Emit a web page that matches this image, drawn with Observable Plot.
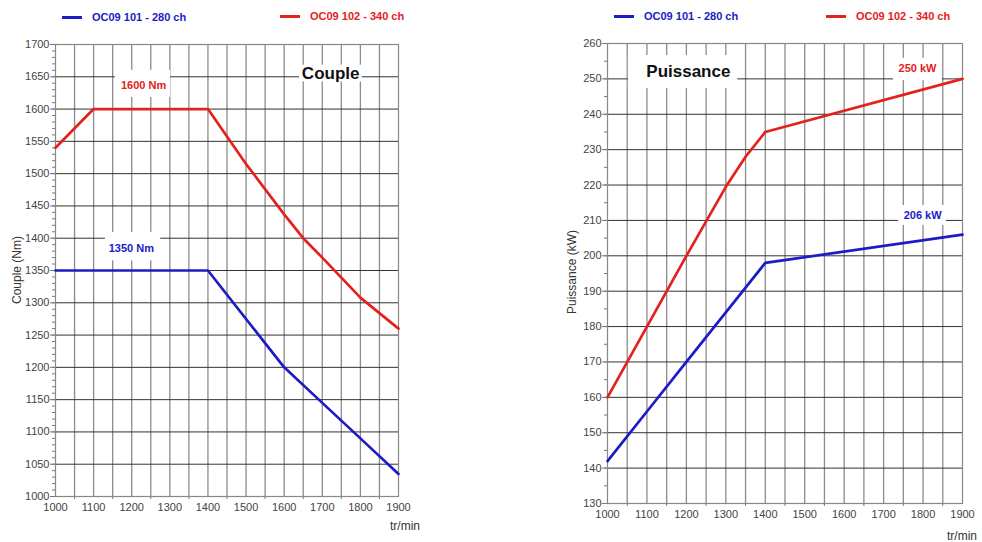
<!DOCTYPE html>
<html>
<head>
<meta charset="utf-8">
<script src="https://cdn.jsdelivr.net/npm/d3@7"></script>
<script src="https://cdn.jsdelivr.net/npm/@observablehq/plot@0.6"></script>
<style>
  body { margin: 0; background: #fff; font-family: "Liberation Sans", Arial, sans-serif; }
  #wrap { position: relative; width: 982px; height: 542px; overflow: hidden; }
  .chart { position: absolute; top: 0; }
  .leg { position: absolute; font-size: 11px; font-weight: bold; white-space: nowrap; }
  .leg span.sw { display: inline-block; width: 20px; height: 3px; vertical-align: middle; margin-right: 10px; position: relative; top: -1px; }
  .lbl { position: absolute; font-size: 12px; color: #333; white-space: nowrap; }
</style>
</head>
<body>
<div id="wrap"></div>
<script>
// ---- data ----
const seriesNames = ["OC09 101 - 280 ch", "OC09 102 - 340 ch"];
const seriesColors = ["#1c1cc4", "#e3221d"];

// Couple (Nm)
const torqueRpm280 = [1000, 1400, 1600, 1700, 1800, 1900];
const torque280 =    [1350, 1350, 1200, 1145, 1090, 1035];
const torqueRpm340 = [1000, 1100, 1400, 1500, 1600, 1650, 1700, 1800, 1900];
const torque340 =    [1540, 1600, 1600, 1515, 1437, 1400, 1370, 1308, 1260];

// Puissance (kW)
const powerRpm280 = [1000, 1100, 1200, 1300, 1400, 1900];
const power280 =    [142, 156, 170, 184, 198, 206];
const powerRpm340 = [1000, 1100, 1200, 1300, 1350, 1400, 1900];
const power340 =    [160, 180, 200, 219.5, 228, 235, 250];

const xTicks = d3.range(1000, 1901, 100);
const torqueTicks = d3.range(1000, 1701, 50);
const powerTicks = d3.range(130, 261, 10);

// annotations (data coordinates)
const torqueNotes = [
  {text: "1600 Nm", x: 1231, y: 1636, color: seriesColors[1], size: 11, x1: 1157, x2: 1302, y1: 1618, y2: 1660},
  {text: "1350 Nm", x: 1199, y: 1384, color: seriesColors[0], size: 11, x1: 1131, x2: 1276, y1: 1365, y2: 1409},
  {text: "Couple", x: 1722, y: 1655, color: "#111", size: 17, x1: 1640, x2: 1805, y1: 1642, y2: 1668}
];
const powerNotes = [
  {text: "Puissance", x: 1205, y: 252, color: "#111", size: 17, x1: 1053, x2: 1330, y1: 247.3, y2: 256.6},
  {text: "250 kW", x: 1786, y: 252.9, color: seriesColors[1], size: 11, x1: 1725, x2: 1849, y1: 249.5, y2: 255.8},
  {text: "206 kW", x: 1799, y: 211.4, color: seriesColors[0], size: 11, x1: 1738, x2: 1859, y1: 208.6, y2: 214.2}
];

function toRows(xs, ys, s) { return xs.map((x, i) => ({x, y: ys[i], s})); }

function makeChart(opts) {
  const {width, height, ml, mr, mt, mb, yDomain, yTicks, yGrid, yMinor, rows, notes} = opts;
  return Plot.plot({
    width, height,
    marginLeft: ml, marginRight: mr, marginTop: mt, marginBottom: mb,
    style: {fontFamily: "Liberation Sans, Arial, sans-serif", fontSize: "11px", color: "#444", background: "transparent"},
    x: {domain: [1000, 1900]},
    y: {domain: yDomain},
    color: {domain: seriesNames, range: seriesColors},
    marks: [
      Plot.gridX(d3.range(1050, 1900, 50), {stroke: "#8c8c8c", strokeOpacity: 1, strokeWidth: 1.3}),
      Plot.gridY(yGrid, {stroke: "#333", strokeOpacity: 1, strokeWidth: 1}),
      Plot.rect(notes, {x1: "x1", x2: "x2", y1: "y1", y2: "y2", fill: "#fff"}),
      Plot.axisY({ticks: yMinor, tickSize: 3, text: null, stroke: "#777"}),
      Plot.axisY({ticks: yTicks, tickSize: 5, tickPadding: 1, tickFormat: "d", stroke: "#777", fill: "#444", label: null, fontSize: 11}),
      Plot.axisX({ticks: d3.range(1050, 1900, 100), tickSize: 3, text: null, stroke: "#777"}),
      Plot.axisX({ticks: xTicks, tickSize: 0, tickPadding: 7, tickFormat: "d", fill: "#444", label: null, fontSize: 11}),
      Plot.frame({stroke: "#888", strokeWidth: 1.2}),
      Plot.line(rows, {x: "x", y: "y", stroke: "s", z: "s", strokeWidth: 2.7}),
      Plot.text(notes, {x: "x", y: "y", text: "text", fill: "color", fontSize: "size", fontWeight: "bold"})
    ]
  });
}

const wrap = document.getElementById("wrap");

const left = makeChart({
  width: 430, height: 542, ml: 55, mr: 32, mt: 44, mb: 46,
  yDomain: [1000, 1700], yTicks: torqueTicks, yGrid: d3.range(1050, 1700, 50),
  yMinor: d3.range(1000, 1701, 10),
  rows: [...toRows(torqueRpm280, torque280, seriesNames[0]), ...toRows(torqueRpm340, torque340, seriesNames[1])],
  notes: torqueNotes
});
left.classList.add("chart");
left.style.left = "0px";
wrap.appendChild(left);

const right = makeChart({
  width: 422, height: 542, ml: 47, mr: 20, mt: 43, mb: 39,
  yDomain: [130, 260], yTicks: powerTicks, yGrid: d3.range(140, 260, 10),
  yMinor: d3.range(130, 261, 5),
  rows: [...toRows(powerRpm280, power280, seriesNames[0]), ...toRows(powerRpm340, power340, seriesNames[1])],
  notes: powerNotes
});
right.classList.add("chart");
right.style.left = "560px";
wrap.appendChild(right);

// legends
function legend(x, i, top) {
  const d = document.createElement("div");
  d.className = "leg";
  d.style.left = x + "px";
  d.style.top = top + "px";
  d.style.color = seriesColors[i];
  d.innerHTML = `<span class="sw" style="background:${seriesColors[i]}"></span>${seriesNames[i]}`;
  wrap.appendChild(d);
}
legend(62, 0, 11); legend(280, 1, 10);
legend(614, 0, 10); legend(826, 1, 10);

// axis titles
function label(text, x, y, rot) {
  const d = document.createElement("div");
  d.className = "lbl";
  d.textContent = text;
  d.style.left = x + "px";
  d.style.top = y + "px";
  if (rot) { d.style.transform = "translate(-50%,-50%) rotate(-90deg)"; }
  wrap.appendChild(d);
}
label("Couple (Nm)", 17, 270, true);
label("Puissance (kW)", 572, 272, true);
label("tr/min", 390, 519, false);
label("tr/min", 947, 529, false);
</script>
</body>
</html>
